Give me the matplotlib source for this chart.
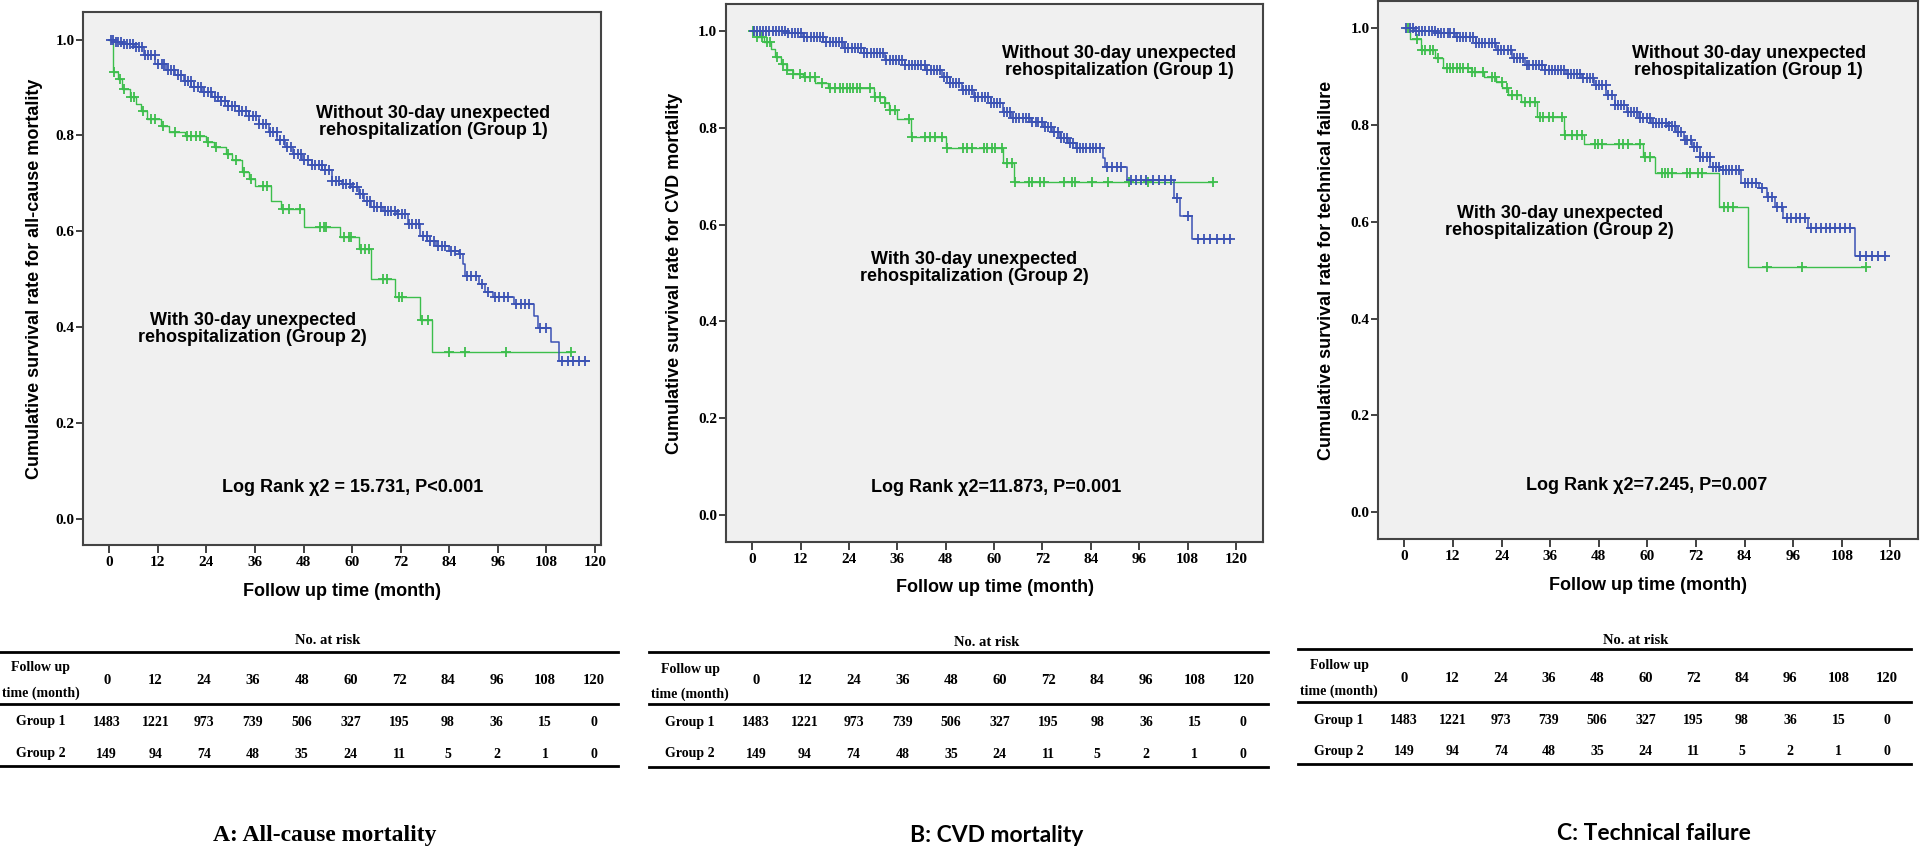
import numpy as np
import matplotlib
matplotlib.use("Agg")
import matplotlib.pyplot as plt
from matplotlib.lines import Line2D

# ---------------- data ----------------
# Panel A: all-cause mortality
a_g1_t = [1.5, 3.5, 6.2, 8.5, 11.3, 14.0, 16.3, 18.5, 20.3, 23.0, 25.4, 27.5, 29.4, 32.0, 34.4, 37.0,
          39.5, 41.5, 43.5, 45.5, 47.5, 50.0, 52.6, 55.1, 57.5, 59.6, 61.6, 63.0, 64.7, 67.7, 71.2,
          73.7, 76.7, 78.5, 80.8, 83.8, 86.3, 87.3, 87.8, 91.3, 92.9, 94.9, 100.1, 104.9, 105.9, 109.0, 111.0]
a_g1_s = [0.995, 0.99, 0.984, 0.968, 0.949, 0.937, 0.925, 0.913, 0.902, 0.891, 0.88, 0.871, 0.862, 0.852,
          0.841, 0.823, 0.807, 0.791, 0.775, 0.761, 0.748, 0.738, 0.727, 0.706, 0.699, 0.692, 0.678, 0.664,
          0.65, 0.642, 0.636, 0.616, 0.591, 0.58, 0.57, 0.56, 0.553, 0.532, 0.508, 0.49, 0.473, 0.463,
          0.449, 0.424, 0.399, 0.369, 0.33]
a_g1_end = 118.5
a_g1_cens = [0.3, 0.9, 1.6, 2.2, 2.9, 3.7, 4.4, 5.0, 5.8, 6.5, 7.3, 8.0, 8.9, 9.6, 10.4, 11.2, 12.1, 12.9,
             13.6, 14.5, 15.3, 16.0, 16.9, 17.7, 18.6, 19.4, 20.1, 21.0, 21.8, 22.7, 23.5, 24.4, 25.1, 26.0,
             26.9, 27.7, 28.6, 29.4, 30.3, 31.1, 32.0, 32.8, 33.7, 34.5, 35.4, 36.2, 37.1, 38.0, 38.8, 39.7,
             40.5, 41.4, 42.2, 43.1, 44.0, 44.8, 45.7, 46.5, 47.4, 48.2, 49.1, 50.0, 50.8, 51.7, 52.5, 53.4,
             54.2, 55.1, 56.0, 56.8, 57.7, 58.5, 59.4, 60.2, 61.1, 62.0, 62.8, 63.7, 64.5, 65.4, 66.2, 67.1,
             68.0, 68.8, 69.7, 70.5, 71.4, 72.3, 73.1, 74.0, 74.9, 75.8, 76.6, 77.5, 78.4, 79.3, 80.2, 81.3,
             82.2, 83.0, 84.5, 85.5, 86.6, 88.3, 89.4, 90.6, 92.0, 93.5, 95.2, 96.3, 97.4, 98.5, 100.5,
             101.7, 102.8, 103.8, 106.5, 107.8, 111.8, 113.2, 114.6, 116.0, 117.6]
a_g2_t = [1.0, 2.2, 3.2, 5.0, 6.7, 7.8, 9.3, 12.8, 14.8, 18.8, 23.9, 25.9, 28.9, 30.4, 32.9, 34.4, 36.0,
          40.0, 42.5, 48.0, 57.1, 61.6, 64.7, 70.7, 76.7, 79.8]
a_g2_s = [0.932, 0.918, 0.897, 0.88, 0.866, 0.852, 0.835, 0.82, 0.807, 0.798, 0.786, 0.775, 0.761, 0.749,
          0.723, 0.709, 0.695, 0.663, 0.647, 0.61, 0.589, 0.563, 0.501, 0.463, 0.415, 0.348]
a_g2_end = 114.0
a_g2_cens = [1.2, 2.7, 3.7, 5.4, 6.2, 8.3, 10.3, 11.3, 13.3, 16.3, 19.3, 20.3, 21.3, 22.4, 24.4, 26.4,
             29.4, 31.4, 33.4, 34.9, 38.0, 39.0, 43.0, 44.5, 47.0, 52.1, 53.1, 53.6, 58.1, 59.1, 59.8,
             62.1, 63.1, 64.1, 67.7, 68.7, 71.5, 72.2, 77.2, 78.8, 83.8, 87.8, 97.9, 114.0]

# Panel B: CVD mortality
b_g1_t = [8.6, 12.6, 17.7, 22.8, 27.8, 32.9, 37.9, 43.0, 47.0, 49.0, 52.1, 55.1, 59.2, 62.2, 64.2, 69.3,
          72.3, 74.3, 76.3, 78.4, 80.4, 87.0, 87.5, 93.0, 104.7, 106.2, 109.2]
b_g1_s = [0.995, 0.988, 0.978, 0.964, 0.954, 0.94, 0.93, 0.919, 0.906, 0.892, 0.878, 0.864, 0.851, 0.833,
          0.82, 0.813, 0.802, 0.792, 0.778, 0.768, 0.758, 0.737, 0.719, 0.692, 0.655, 0.617, 0.57]
b_g1_end = 118.8
b_g1_cens = [0.4, 1.2, 2.0, 2.8, 3.5, 4.3, 5.1, 5.9, 6.7, 7.4, 8.2, 9.0, 9.8, 10.6, 11.3, 12.1, 12.9, 13.7,
             14.5, 15.3, 16.0, 16.8, 17.6, 18.4, 19.2, 20.0, 20.8, 21.5, 22.3, 23.1, 23.9, 24.7, 25.5,
             26.3, 27.0, 27.8, 28.6, 29.4, 30.2, 31.0, 31.8, 32.5, 33.3, 34.1, 34.9, 35.7, 36.5, 37.3,
             38.0, 38.8, 39.6, 40.4, 41.2, 42.0, 42.8, 43.5, 44.3, 45.1, 45.9, 46.7, 47.5, 48.3, 49.0,
             49.8, 50.6, 51.4, 52.2, 53.0, 53.8, 54.5, 55.3, 56.1, 56.9, 57.7, 58.5, 59.3, 60.0, 60.8,
             61.6, 62.4, 63.2, 64.0, 64.8, 65.5, 66.3, 67.1, 67.9, 68.7, 69.5, 70.3, 71.0, 71.8, 72.6,
             73.4, 74.2, 75.0, 75.8, 76.5, 77.3, 78.1, 78.9, 79.7, 80.5, 81.3, 82.1, 82.9, 83.7, 84.5,
             85.4, 86.2, 88.0, 89.2, 90.4, 91.6, 94.0, 95.3, 96.5, 97.8, 99.5, 101.0, 102.4, 103.8, 105.3,
             108.0, 110.5, 112.0, 113.6, 115.2, 117.0, 118.6]
b_g2_t = [1.0, 3.0, 4.6, 5.6, 7.1, 8.6, 10.1, 12.6, 15.7, 18.7, 30.3, 32.9, 33.9, 35.9, 39.4, 48.0, 62.2, 65.0]
b_g2_s = [0.987, 0.978, 0.962, 0.947, 0.932, 0.919, 0.911, 0.904, 0.893, 0.882, 0.864, 0.851, 0.837,
          0.818, 0.782, 0.759, 0.727, 0.687]
b_g2_end = 114.3
b_g2_cens = [0.2, 1.1, 2.4, 3.6, 4.4, 6.1, 7.7, 8.6, 10.2, 11.9, 13.1, 14.4, 15.6, 17.3, 19.3, 20.6, 21.8,
             22.6, 23.5, 24.3, 25.1, 26.0, 26.8, 29.3, 30.5, 31.7, 33.0, 34.2, 35.4, 38.8, 39.6, 42.9,
             44.1, 45.4, 47.0, 48.3, 52.4, 53.2, 54.5, 57.4, 58.2, 59.4, 60.3, 61.9, 63.2, 64.4, 65.3,
             68.6, 69.4, 71.5, 72.3, 77.3, 79.3, 80.2, 84.3, 88.4, 93.4, 98.1, 114.3]

# Panel C: technical failure
c_g1_t = [2.5, 7.6, 12.6, 17.6, 22.7, 26.7, 29.7, 34.7, 39.8, 43.8, 46.8, 49.8, 51.9, 54.9, 57.9, 60.9,
          65.0, 67.0, 69.0, 71.0, 73.0, 75.5, 78.0, 83.0, 87.5, 89.5, 91.5, 93.5, 99.7, 111.3]
c_g1_s = [0.995, 0.99, 0.981, 0.969, 0.955, 0.938, 0.924, 0.914, 0.906, 0.897, 0.883, 0.862, 0.841, 0.828,
          0.814, 0.805, 0.798, 0.786, 0.769, 0.755, 0.734, 0.714, 0.707, 0.681, 0.669, 0.652, 0.631, 0.609,
          0.588, 0.529]
c_g1_end = 118.8
c_g1_cens = [0.5, 1.3, 2.1, 2.9, 3.6, 4.4, 5.2, 6.0, 6.8, 7.5, 8.3, 9.1, 9.9, 10.7, 11.4, 12.2, 13.0, 13.8,
             14.6, 15.3, 16.1, 16.9, 17.7, 18.5, 19.2, 20.0, 20.8, 21.6, 22.4, 23.1, 23.9, 24.7, 25.5,
             26.3, 27.0, 27.8, 28.6, 29.4, 30.2, 30.9, 31.7, 32.5, 33.3, 34.1, 34.8, 35.6, 36.4, 37.2,
             38.0, 38.7, 39.5, 40.3, 41.1, 41.9, 42.6, 43.4, 44.2, 45.0, 45.8, 46.5, 47.3, 48.1, 48.9,
             49.7, 50.4, 51.2, 52.0, 52.8, 53.6, 54.3, 55.1, 55.9, 56.7, 57.5, 58.2, 59.0, 59.8, 60.6,
             61.4, 62.1, 62.9, 63.7, 64.5, 65.3, 66.0, 66.8, 67.6, 68.4, 69.2, 69.9, 70.7, 71.5, 72.3,
             73.1, 73.8, 74.6, 75.4, 76.2, 77.0, 77.8, 78.6, 79.4, 80.2, 81.0, 81.8, 82.7, 84.0, 84.9,
             85.8, 86.8, 88.3, 89.8, 90.8, 92.1, 93.3, 94.4, 95.5, 96.6, 97.7, 99.0, 100.3, 101.7, 102.9,
             104.0, 105.2, 106.4, 107.6, 108.7, 110.0, 112.5, 114.0, 115.5, 117.0, 118.6]
c_g2_t = [1.5, 4.0, 7.6, 9.6, 16.6, 19.6, 22.7, 24.2, 25.7, 28.7, 32.7, 39.3, 44.3, 58.9, 61.9, 77.7, 84.8]
c_g2_s = [0.977, 0.955, 0.938, 0.919, 0.91, 0.9, 0.89, 0.876, 0.862, 0.848, 0.817, 0.779, 0.761, 0.734,
          0.701, 0.63, 0.507]
c_g2_end = 114.0
c_g2_cens = [1.0, 3.1, 4.3, 5.1, 6.3, 7.2, 8.4, 10.5, 11.3, 12.1, 12.9, 13.8, 14.6, 15.8, 16.6, 17.5, 19.5,
             21.6, 22.4, 24.0, 25.3, 26.5, 27.7, 29.8, 31.0, 32.3, 33.5, 34.3, 35.6, 36.8, 38.9, 39.7,
             41.3, 42.6, 43.8, 47.1, 47.9, 48.7, 52.9, 54.1, 55.3, 58.2, 59.4, 60.7, 63.5, 64.4, 65.2,
             66.0, 69.7, 70.5, 72.6, 73.4, 78.8, 80.0, 81.2, 89.5, 98.1, 114.0]

# Number-at-risk table
risk_times = [0, 12, 24, 36, 48, 60, 72, 84, 96, 108, 120]
risk_group1 = [1483, 1221, 973, 739, 506, 327, 195, 98, 36, 15, 0]
risk_group2 = [149, 94, 74, 48, 35, 24, 11, 5, 2, 1, 0]

# Texts
ylabels = ["Cumulative survival rate for all-cause mortality",
           "Cumulative survival rate for CVD mortality",
           "Cumulative survival rate for technical failure"]
logrank_texts = ["Log Rank \u03c72 = 15.731, P<0.001",
                 "Log Rank \u03c72=11.873, P=0.001",
                 "Log Rank \u03c72=7.245, P=0.007"]
panel_titles = ["A: All-cause mortality", "B: CVD mortality", "C: Technical failure"]
group1_label = "Without 30-day unexpected\nrehospitalization (Group 1)"
group2_label = "With 30-day unexpected\nrehospitalization (Group 2)"
x_ticks = [0, 12, 24, 36, 48, 60, 72, 84, 96, 108, 120]
y_ticks = [0.0, 0.2, 0.4, 0.6, 0.8, 1.0]

# ---------------- layout ----------------
W, H = 1927, 848
BLUE = "#3B52B4"
GREEN = "#3CBE4C"
SANS = "Liberation Sans"
SERIF = "Liberation Serif"

fig = plt.figure(figsize=(W / 100, H / 100), dpi=100)
fig.patch.set_facecolor("white")


def fxp(px):
    return px / W


def fyp(py):
    return 1 - py / H


panels = [
    dict(box=(82.7, 12.3, 600.7, 545.0), xlim=(-6.57, 121.4), ylim=(-0.0536, 1.0567),
         g1=(a_g1_t, a_g1_s, a_g1_end, a_g1_cens), g2=(a_g2_t, a_g2_s, a_g2_end, a_g2_cens),
         ylab_x=34.7, xlab=(341.6, 592), lr=(352.6, 487), t1=(433, 122), t2=(252.8, 329),
         table=dict(x0=0, x1=618.4, ytop=652, ymid=704, ybot=766, nar=(327.4, 640), labx=40.8,
                    c0=106.8, c1=594.0, yfu=668, ytm=693, yhd=681, yg1=722, yg2=754),
         title=(324.9, 835), title_font=SERIF, title_size=17),
    dict(box=(725.6, 4.0, 1262.9, 542.0), xlim=(-6.58, 126.7), ylim=(-0.0558, 1.0558),
         g1=(b_g1_t, b_g1_s, b_g1_end, b_g1_cens), g2=(b_g2_t, b_g2_s, b_g2_end, b_g2_cens),
         ylab_x=674.7, xlab=(994.7, 588), lr=(995.9, 488), t1=(1119, 62), t2=(974.3, 268),
         table=dict(x0=649, x1=1267.8, ytop=651.7, ymid=704.3, ybot=766.7, nar=(986.5, 642), labx=690.1,
                    c0=756.2, c1=1243.3, yfu=669, ytm=694, yhd=681, yg1=722.3, yg2=754),
         title=(996.7, 835), title_font="Lato", title_size=16.5),
    dict(box=(1377.8, 1.0, 1918.0, 539.3), xlim=(-6.54, 126.8), ylim=(-0.0558, 1.0564),
         g1=(c_g1_t, c_g1_s, c_g1_end, c_g1_cens), g2=(c_g2_t, c_g2_s, c_g2_end, c_g2_cens),
         ylab_x=1326.9, xlab=(1647.7, 585), lr=(1646.9, 485), t1=(1748.8, 62), t2=(1559.7, 222),
         table=dict(x0=1298.3, x1=1910.7, ytop=649, ymid=701.7, ybot=764.3, nar=(1635.5, 640), labx=1339.1,
                    c0=1404.3, c1=1886.6, yfu=665.7, ytm=691.7, yhd=679, yg1=720.7, yg2=751.7),
         title=(1654.2, 834), title_font="Lato", title_size=16.5),
]


def km_draw(ax, t, s, end, cens, color, lw):
    xs = [0.0] + list(t) + [end]
    ys = [1.0] + list(s) + [s[-1]]
    ax.step(xs, ys, where="post", color=color, lw=lw, zorder=3)
    s_full = np.array([1.0] + list(s))
    idx = np.searchsorted(np.array(t), np.array(cens), side="right")
    ax.plot(cens, s_full[idx], linestyle="none", marker="+", ms=7.5, mew=1.3, color=color, zorder=4)


for i, p in enumerate(panels):
    l, t, r, b = p["box"]
    ax = fig.add_axes([fxp(l), fyp(b), fxp(r - l), (b - t) / H])
    ax.set_facecolor("#F0F0F0")
    km_draw(ax, *p["g2"], GREEN, 1.0)
    km_draw(ax, *p["g1"], BLUE, 1.1)
    ax.set_xlim(*p["xlim"])
    ax.set_ylim(*p["ylim"])
    ax.set_xticks(x_ticks)
    ax.set_yticks(y_ticks)
    ax.set_yticklabels([f"{v:.1f}" for v in y_ticks])
    for sp in ax.spines.values():
        sp.set_color("#444444")
        sp.set_linewidth(1.5)
    ax.tick_params(axis="both", direction="out", color="#333333", width=1.3)
    ax.tick_params(axis="x", length=6, pad=2)
    ax.tick_params(axis="y", length=5, pad=1)
    for lab in ax.get_xticklabels() + ax.get_yticklabels():
        lab.set_fontfamily(SERIF)
        lab.set_fontweight("bold")
        lab.set_fontsize(11)

    fig.text(fxp(p["ylab_x"]), fyp((t + b) / 2), ylabels[i], rotation=90, ha="center", va="center",
             fontsize=13, fontweight="bold", family=SANS)
    fig.text(fxp(p["xlab"][0]), fyp(p["xlab"][1]), "Follow up time (month)", ha="center", va="center",
             fontsize=13, fontweight="bold", family=SANS)
    fig.text(fxp(p["lr"][0]), fyp(p["lr"][1]), logrank_texts[i], ha="center", va="center",
             fontsize=13, fontweight="bold", family=SANS)
    fig.text(fxp(p["t1"][0]), fyp(p["t1"][1]), group1_label, ha="center", va="center",
             fontsize=13, fontweight="bold", family=SANS, linespacing=1.0)
    fig.text(fxp(p["t2"][0]), fyp(p["t2"][1]), group2_label, ha="center", va="center",
             fontsize=13, fontweight="bold", family=SANS, linespacing=1.0)

    # number at risk table
    tb = p["table"]
    for yy in (tb["ytop"], tb["ymid"], tb["ybot"]):
        fig.add_artist(Line2D([fxp(tb["x0"]), fxp(tb["x1"])], [fyp(yy), fyp(yy)],
                              transform=fig.transFigure, color="black", lw=2.0))
    fig.text(fxp(tb["nar"][0]), fyp(tb["nar"][1]), "No. at risk", ha="center", va="center",
             fontsize=10.5, fontweight="bold", family=SERIF)
    fig.text(fxp(tb["labx"]), fyp(tb["yfu"]), "Follow up", ha="center", va="center",
             fontsize=10, fontweight="bold", family=SERIF)
    fig.text(fxp(tb["labx"]), fyp(tb["ytm"]), "time (month)", ha="center", va="center",
             fontsize=10, fontweight="bold", family=SERIF)
    fig.text(fxp(tb["labx"]), fyp(tb["yg1"]), "Group 1", ha="center", va="center",
             fontsize=10, fontweight="bold", family=SERIF)
    fig.text(fxp(tb["labx"]), fyp(tb["yg2"]), "Group 2", ha="center", va="center",
             fontsize=10, fontweight="bold", family=SERIF)
    step = (tb["c1"] - tb["c0"]) / (len(risk_times) - 1)
    for j, (rt, n1, n2) in enumerate(zip(risk_times, risk_group1, risk_group2)):
        cx = fxp(tb["c0"] + j * step)
        fig.text(cx, fyp(tb["yhd"]), str(rt), ha="center", va="center", fontsize=10.5,
                 fontweight="bold", family=SERIF)
        fig.text(cx, fyp(tb["yg1"]), str(n1), ha="center", va="center", fontsize=10,
                 fontweight="bold", family=SERIF)
        fig.text(cx, fyp(tb["yg2"]), str(n2), ha="center", va="center", fontsize=10,
                 fontweight="bold", family=SERIF)

    fig.text(fxp(p["title"][0]), fyp(p["title"][1]), panel_titles[i], ha="center", va="center",
             fontsize=p["title_size"], fontweight="bold", family=p["title_font"])

fig.savefig("out.png", dpi=100, facecolor="white")
